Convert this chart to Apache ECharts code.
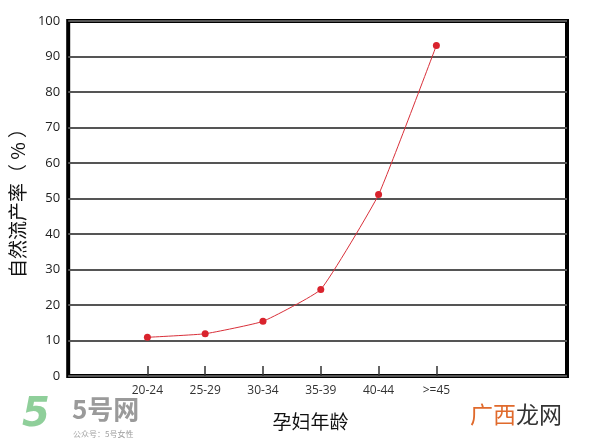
<!DOCTYPE html>
<html>
<head>
<meta charset="utf-8">
<script src="https://cdn.jsdelivr.net/npm/echarts@6/dist/echarts.min.js"></script>
<style>html,body{margin:0;padding:0;background:#fff}#c{width:600px;height:445px}</style>
</head>
<body>
<div id="c"></div>
<script>
const categories = ['20-24', '25-29', '30-34', '35-39', '40-44', '>=45'];
const rates = [10.9, 11.9, 15.4, 24.4, 51.1, 93.1];
const yTicks = [0, 10, 20, 30, 40, 50, 60, 70, 80, 90, 100];

const chart = echarts.init(document.getElementById('c'));
const idx = categories.map((c, i) => i);
chart.setOption({
  backgroundColor: '#fff',
  animation: false,
  grid: {
    left: 63, right: 33, top: 21, bottom: 69,
    show: true, borderWidth: 4, borderColor: '#000', backgroundColor: 'transparent'
  },
  xAxis: {
    type: 'value',
    min: -1.37, max: 7.26,
    name: '孕妇年龄',
    nameLocation: 'middle',
    nameGap: 36,
    nameTextStyle: { fontSize: 19, color: '#111', fontFamily: 'Noto Sans CJK SC', padding: [0, 14, 0, 0] },
    splitLine: { show: false },
    axisLine: { show: false },
    axisTick: { show: true, inside: true, length: 10, customValues: idx, lineStyle: { color: '#333', width: 1.5 } },
    axisLabel: {
      customValues: idx,
      formatter: v => categories[Math.round(v)] || '',
      fontSize: 12, color: '#333', margin: 9, fontFamily: 'Open Sans'
    }
  },
  yAxis: {
    type: 'value',
    min: 0, max: 100, interval: 10,
    name: '自然流产率（ % ）',
    nameLocation: 'middle',
    nameRotate: 90,
    nameGap: 30,
    nameTextStyle: { fontSize: 19, color: '#111', fontFamily: 'Noto Sans CJK SC' },
    axisLine: { show: false },
    axisTick: { show: false },
    axisLabel: { fontSize: 13, color: '#222', margin: 8, fontFamily: 'Open Sans',
      formatter: v => yTicks.includes(v) ? String(v) : '' },
    splitLine: { show: true, lineStyle: { color: '#555', width: 2 } }
  },
  series: [{
    type: 'line',
    data: rates.map((v, i) => [i, v]),
    smooth: 0.12,
    symbol: 'circle',
    symbolSize: 7,
    lineStyle: { color: '#d9303a', width: 1 },
    itemStyle: { color: '#d9232d' }
  }],
  graphic: [
    { type: 'text', left: 22, top: 396, style: { text: '5', fontSize: 40, fontWeight: 'bold', fontStyle: 'italic', fill: '#8fcf9a', fontFamily: 'DejaVu Sans' } },
    { type: 'text', left: 72, top: 396, style: { text: '5号网', fontSize: 26, fontWeight: 'bold', fill: '#9a9a9a', fontFamily: 'Noto Sans CJK SC' } },
    { type: 'text', left: 73, top: 430, style: { text: '公众号：5号女性', fontSize: 8, fill: '#a0a0a0', fontFamily: 'Noto Sans CJK SC' } },
    { type: 'text', left: 470, top: 403, style: { rich: { a: { fontSize: 23, fill: '#e06a2c', fontFamily: 'Noto Sans CJK SC' }, b: { fontSize: 23, fill: '#333', fontFamily: 'Noto Sans CJK SC' } }, text: '{a|广西}{b|龙网}' } }
  ]
});
</script>
</body>
</html>
